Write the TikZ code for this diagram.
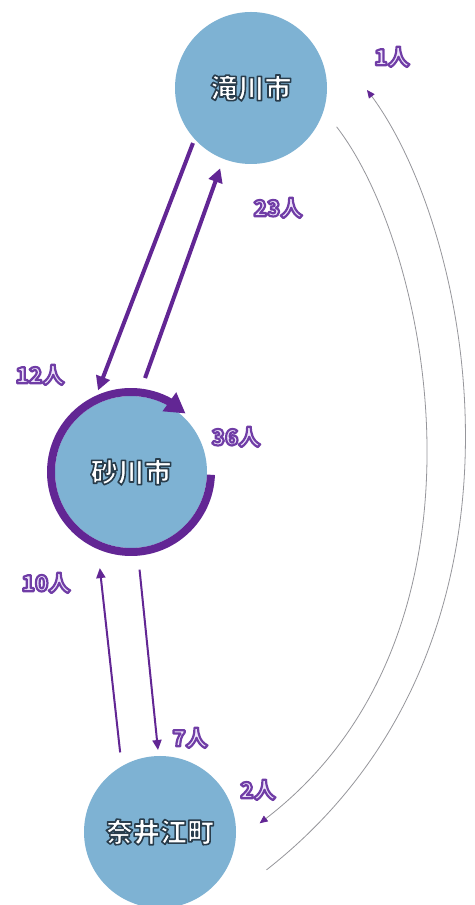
\documentclass[tikz,border=0pt]{standalone}
\usepackage{fontspec}
\newfontfamily\jp{Noto Sans CJK JP}
\usetikzlibrary{arrows.meta,bending}
\definecolor{cfill}{RGB}{126,178,211}
\definecolor{pur}{RGB}{98,38,148}
\definecolor{labfill}{RGB}{238,228,250}
\definecolor{arcgray}{RGB}{150,150,155}
% outlined text: #1 stroke width, #2 stroke RGB (0-1), #3 fill colour, #4 text
\newcommand\olt[4]{{\color{#3}\special{pdf:literal direct #2 RG #1 w 1 j 2 Tr}#4\special{pdf:literal direct 0 Tr}}}
\tikzset{
  city/.style={circle, fill=cfill, minimum size=152pt, inner sep=0pt, font=\jp\bfseries\fontsize{27}{27}\selectfont},
  lab/.style={font=\jp\bfseries\fontsize{22}{22}\selectfont, inner sep=0pt},
  thickarr/.style={pur, line width=4pt, -{Triangle[length=14pt,width=14pt]}},
  thinarr/.style={pur, line width=2pt, -{Triangle[length=10pt,width=9pt]}},
  longarr/.style={arcgray, line width=0.8pt, -{Triangle[length=8pt,width=7pt,color=pur]}},
  ringarr/.style={pur, line width=8pt, -{Triangle[length=20pt,width=22pt]}}
}
\begin{document}
\begin{tikzpicture}[x=1pt,y=1pt]
\useasboundingbox[fill=white] (0,0) rectangle (474,905);
\node[city] (taki) at (251,817) {\olt{1.6}{0.16 0.24 0.30}{white}{滝川市}};
\node[city] (suna) at (131,433) {\olt{1.6}{0.16 0.24 0.30}{white}{砂川市}};
\node[city] (nair) at (160,73) {\olt{1.6}{0.16 0.24 0.30}{white}{奈井江町}};
% ring
\draw[ringarr] ([shift={(-2:80)}]suna.center) arc[start angle=-2, end angle=-313, radius=80];
% taki <-> suna
\draw[thickarr] ([shift={(223.5:80)}]taki.center) -- ([shift={(112:88)}]suna.center);
\draw[thickarr] ([shift={(81.5:95)}]suna.center) -- ([shift={(249:86)}]taki.center);
% suna <-> nair
\draw[thinarr] ([shift={(275:98)}]suna.center) -- ([shift={(91.4:82)}]nair.center);
\draw[thinarr] ([shift={(116.6:89)}]nair.center) -- ([shift={(252:101)}]suna.center);
% long arcs
\draw[longarr] ([shift={(-24.4:94)}]taki.center) .. controls (432,655) and (508,265) .. ([shift={(5:100)}]nair.center);
\draw[longarr] ([shift={(-19.6:113)}]nair.center) .. controls (560,265) and (470,685) .. ([shift={(-1:116)}]taki.center);
% labels
\node[lab] (l12) at (40,530) {\olt{2.2}{0.44 0.24 0.65}{labfill}{12人}};
\node[lab] (l23) at (278,697) {\olt{2.2}{0.44 0.24 0.65}{labfill}{23人}};
\node[lab] (l36) at (236,468) {\olt{2.2}{0.44 0.24 0.65}{labfill}{36人}};
\node[lab] (l7) at (190,167) {\olt{2.2}{0.44 0.24 0.65}{labfill}{7人}};
\node[lab] (l10) at (46,322) {\olt{2.2}{0.44 0.24 0.65}{labfill}{10人}};
\node[lab] (l2) at (258,115) {\olt{2.2}{0.44 0.24 0.65}{labfill}{2人}};
\node[lab] (l1) at (392,848) {\olt{2.2}{0.44 0.24 0.65}{labfill}{1人}};
\end{tikzpicture}
\end{document}
